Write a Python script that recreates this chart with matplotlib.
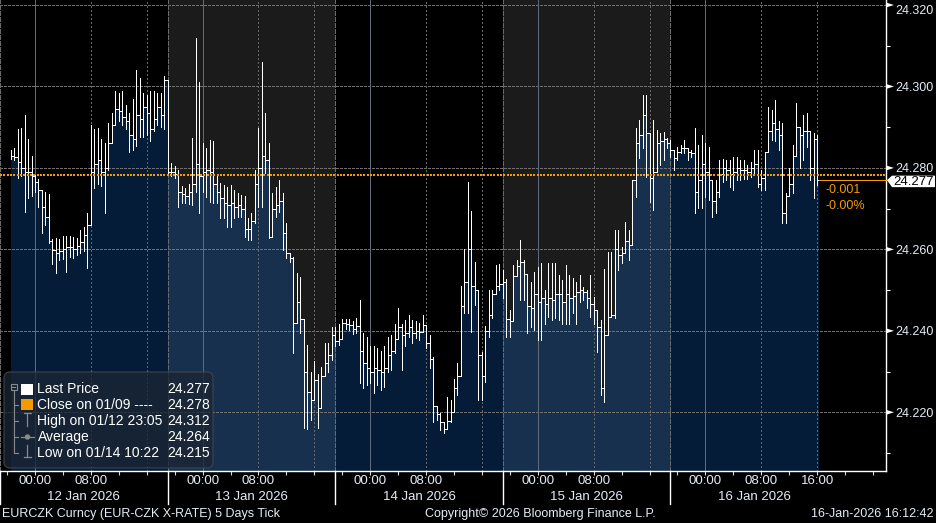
import numpy as np
import pandas as pd
import matplotlib
matplotlib.use("Agg")
import matplotlib.pyplot as plt
import matplotlib.dates as mdates
import matplotlib.transforms as mtransforms
from matplotlib.patches import Rectangle, FancyBboxPatch, Polygon, Circle
from matplotlib.lines import Line2D
from matplotlib.collections import LineCollection

plt.rcParams['font.family'] = ['Liberation Sans', 'DejaVu Sans']

# ---------------- data (30-minute bars, EURCZK) ----------------
first_bar = "2026-01-11 20:30"
bar_step = "30min"
last_tick = "2026-01-16 16:12"

high = [
    24.2845, 24.2850, 24.2895, 24.2898, 24.2930, 24.2870, 24.2830,
    24.2782, 24.2772, 24.2745, 24.2740, 24.2735, 24.2625, 24.2628, 24.2625,
    24.2632, 24.2632, 24.2632, 24.2630, 24.2628, 24.2648, 24.2655, 24.2690,
    24.2905, 24.2895, 24.2898, 24.2870, 24.2862, 24.2910, 24.2935, 24.2990,
    24.2985, 24.2990, 24.2955, 24.2935, 24.2970, 24.3040, 24.3020, 24.2985,
    24.2980, 24.2990, 24.2990, 24.2985, 24.2985, 24.3025, 24.2856, 24.2813,
    24.2805, 24.2795, 24.2755, 24.2750, 24.2760, 24.2873, 24.3120, 24.3010,
    24.2860, 24.2848, 24.2869, 24.2865, 24.2779, 24.2762, 24.2758, 24.2754,
    24.2758, 24.2746, 24.2738, 24.2733, 24.2730, 24.2676, 24.2689, 24.2795,
    24.2897, 24.3060, 24.2934, 24.2860, 24.2738, 24.2754, 24.2770, 24.2738,
    24.2664, 24.2585, 24.2582, 24.2541, 24.2533, 24.2386, 24.2365, 24.2300,
    24.2325, 24.2293, 24.2312, 24.2369, 24.2369, 24.2410, 24.2410, 24.2418,
    24.2428, 24.2430, 24.2428, 24.2424, 24.2432, 24.2476, 24.2394, 24.2386,
    24.2362, 24.2362, 24.2358, 24.2350, 24.2362, 24.2386, 24.2390, 24.2418,
    24.2455, 24.2418, 24.2427, 24.2439, 24.2427, 24.2423, 24.2419, 24.2439,
    24.2398, 24.2390, 24.2335, 24.2210, 24.2198, 24.2177, 24.2238, 24.2230,
    24.2283, 24.2320, 24.2509, 24.2600, 24.2766, 24.2695, 24.2570, 24.2413,
    24.2349, 24.2413, 24.2500, 24.2500, 24.2562, 24.2565, 24.2549, 24.2528,
    24.2451, 24.2562, 24.2574, 24.2623, 24.2574, 24.2525, 24.2521, 24.2545,
    24.2557, 24.2566, 24.2500, 24.2566, 24.2566, 24.2566, 24.2537, 24.2525,
    24.2562, 24.2537, 24.2529, 24.2521, 24.2537, 24.2508, 24.2500, 24.2537,
    24.2484, 24.2447, 24.2427, 24.2553, 24.2594, 24.2594, 24.2648, 24.2648,
    24.2606, 24.2668, 24.2648, 24.2770, 24.2897, 24.2918, 24.2979, 24.2979,
    24.2815, 24.2918, 24.2893, 24.2885, 24.2889, 24.2873, 24.2869, 24.2840,
    24.2852, 24.2856, 24.2869, 24.2848, 24.2844, 24.2897, 24.2856, 24.2881,
    24.2860, 24.2852, 24.2758, 24.2770, 24.2819, 24.2823, 24.2819, 24.2819,
    24.2828, 24.2828, 24.2819, 24.2819, 24.2807, 24.2815, 24.2844, 24.2844,
    24.2795, 24.2840, 24.2950, 24.2942, 24.2967, 24.2914, 24.2910, 24.2738,
    24.2799, 24.2856, 24.2959, 24.2897, 24.2930, 24.2934, 24.2889, 24.2885,
    24.2881,
]

low = [
    24.2822, 24.2820, 24.2775, 24.2780, 24.2692, 24.2725, 24.2730,
    24.2740, 24.2705, 24.2640, 24.2660, 24.2615, 24.2565, 24.2542, 24.2575,
    24.2577, 24.2545, 24.2582, 24.2580, 24.2585, 24.2590, 24.2595, 24.2555,
    24.2746, 24.2750, 24.2760, 24.2755, 24.2690, 24.2795, 24.2870, 24.2905,
    24.2915, 24.2905, 24.2895, 24.2840, 24.2845, 24.2855, 24.2875, 24.2875,
    24.2880, 24.2865, 24.2890, 24.2905, 24.2900, 24.2895, 24.2783, 24.2780,
    24.2775, 24.2705, 24.2715, 24.2715, 24.2712, 24.2710, 24.2740, 24.2690,
    24.2740, 24.2729, 24.2717, 24.2713, 24.2713, 24.2676, 24.2676, 24.2656,
    24.2656, 24.2676, 24.2680, 24.2680, 24.2631, 24.2623, 24.2623, 24.2664,
    24.2705, 24.2705, 24.2787, 24.2627, 24.2656, 24.2680, 24.2693, 24.2599,
    24.2578, 24.2570, 24.2345, 24.2443, 24.2394, 24.2161, 24.2160, 24.2181,
    24.2230, 24.2161, 24.2222, 24.2296, 24.2300, 24.2329, 24.2362, 24.2365,
    24.2404, 24.2405, 24.2403, 24.2392, 24.2395, 24.2271, 24.2259, 24.2267,
    24.2271, 24.2247, 24.2267, 24.2255, 24.2263, 24.2300, 24.2305, 24.2345,
    24.2386, 24.2305, 24.2362, 24.2386, 24.2370, 24.2382, 24.2378, 24.2398,
    24.2357, 24.2310, 24.2177, 24.2180, 24.2157, 24.2150, 24.2160, 24.2177,
    24.2222, 24.2242, 24.2398, 24.2443, 24.2443, 24.2397, 24.2463, 24.2230,
    24.2230, 24.2275, 24.2384, 24.2431, 24.2500, 24.2500, 24.2480, 24.2386,
    24.2386, 24.2443, 24.2537, 24.2476, 24.2476, 24.2394, 24.2410, 24.2402,
    24.2377, 24.2377, 24.2418, 24.2435, 24.2427, 24.2431, 24.2427, 24.2418,
    24.2418, 24.2418, 24.2443, 24.2418, 24.2472, 24.2476, 24.2455, 24.2435,
    24.2418, 24.2349, 24.2243, 24.2226, 24.2410, 24.2435, 24.2431, 24.2549,
    24.2566, 24.2590, 24.2574, 24.2619, 24.2729, 24.2825, 24.2850, 24.2778,
    24.2717, 24.2697, 24.2807, 24.2807, 24.2819, 24.2848, 24.2828, 24.2795,
    24.2819, 24.2836, 24.2836, 24.2819, 24.2828, 24.2689, 24.2701, 24.2701,
    24.2729, 24.2721, 24.2680, 24.2689, 24.2729, 24.2766, 24.2770, 24.2754,
    24.2746, 24.2770, 24.2770, 24.2774, 24.2774, 24.2778, 24.2783, 24.2754,
    24.2746, 24.2746, 24.2840, 24.2869, 24.2865, 24.2844, 24.2664, 24.2664,
    24.2738, 24.2738, 24.2836, 24.2799, 24.2819, 24.2852, 24.2770, 24.2725,
    24.2758,
]

close = [
    24.2830, 24.2828, 24.2815, 24.2800, 24.2790, 24.2790, 24.2780,
    24.2765, 24.2745, 24.2705, 24.2680, 24.2620, 24.2598, 24.2590, 24.2595,
    24.2600, 24.2605, 24.2607, 24.2600, 24.2608, 24.2618, 24.2635, 24.2660,
    24.2790, 24.2810, 24.2820, 24.2790, 24.2800, 24.2860, 24.2905, 24.2945,
    24.2940, 24.2925, 24.2915, 24.2880, 24.2870, 24.2930, 24.2920, 24.2950,
    24.2935, 24.2895, 24.2920, 24.2950, 24.2930, 24.3015, 24.2790, 24.2790,
    24.2785, 24.2740, 24.2735, 24.2730, 24.2740, 24.2760, 24.2810, 24.2780,
    24.2790, 24.2795, 24.2790, 24.2760, 24.2740, 24.2725, 24.2715, 24.2710,
    24.2715, 24.2705, 24.2710, 24.2700, 24.2650, 24.2650, 24.2670, 24.2760,
    24.2800, 24.2830, 24.2820, 24.2630, 24.2700, 24.2710, 24.2720, 24.2640,
    24.2590, 24.2580, 24.2420, 24.2470, 24.2430, 24.2300, 24.2250, 24.2230,
    24.2280, 24.2210, 24.2290, 24.2320, 24.2340, 24.2390, 24.2375, 24.2380,
    24.2420, 24.2418, 24.2415, 24.2405, 24.2412, 24.2350, 24.2320, 24.2310,
    24.2300, 24.2310, 24.2305, 24.2300, 24.2310, 24.2340, 24.2350, 24.2380,
    24.2410, 24.2390, 24.2395, 24.2410, 24.2395, 24.2400, 24.2398, 24.2415,
    24.2370, 24.2330, 24.2215, 24.2195, 24.2175, 24.2160, 24.2178, 24.2200,
    24.2260, 24.2290, 24.2460, 24.2520, 24.2600, 24.2510, 24.2500, 24.2340,
    24.2290, 24.2400, 24.2440, 24.2490, 24.2510, 24.2515, 24.2520, 24.2430,
    24.2425, 24.2535, 24.2560, 24.2570, 24.2540, 24.2460, 24.2455, 24.2490,
    24.2470, 24.2480, 24.2465, 24.2480, 24.2475, 24.2490, 24.2490, 24.2470,
    24.2490, 24.2480, 24.2485, 24.2495, 24.2500, 24.2495, 24.2480, 24.2465,
    24.2450, 24.2410, 24.2260, 24.2390, 24.2435, 24.2440, 24.2600, 24.2585,
    24.2590, 24.2620, 24.2610, 24.2770, 24.2860, 24.2880, 24.2930, 24.2885,
    24.2775, 24.2790, 24.2860, 24.2865, 24.2870, 24.2860, 24.2845, 24.2825,
    24.2840, 24.2850, 24.2848, 24.2840, 24.2836, 24.2740, 24.2770, 24.2810,
    24.2790, 24.2770, 24.2720, 24.2740, 24.2785, 24.2800, 24.2795, 24.2785,
    24.2790, 24.2800, 24.2795, 24.2795, 24.2790, 24.2800, 24.2810, 24.2760,
    24.2775, 24.2840, 24.2890, 24.2910, 24.2895, 24.2880, 24.2690, 24.2730,
    24.2760, 24.2830, 24.2900, 24.2880, 24.2890, 24.2890, 24.2800, 24.2870,
    24.2770,
]

prev_close = 24.2783      # Close on 01/09
last_price = 24.2770
change_abs = "-0.001"
change_pct = "-0.00%"

y_major = [24.220, 24.240, 24.260, 24.280, 24.300, 24.320]
y_minor = [24.210, 24.230, 24.250, 24.270, 24.290, 24.310]

day_starts = ["2026-01-12", "2026-01-13", "2026-01-14", "2026-01-15", "2026-01-16"]
day_labels = ["12 Jan 2026", "13 Jan 2026", "14 Jan 2026", "15 Jan 2026", "16 Jan 2026"]
time_labels = ["00:00", "08:00"]
last_day_extra = "16:00"

legend_labels = ["Last Price", "Close on 01/09 ----", "High on 01/12 23:05", "Average", "Low on 01/14 10:22"]
legend_values = ["24.277", "24.278", "24.312", "24.264", "24.215"]

footer_left = "EURCZK Curncy (EUR-CZK X-RATE) 5 Days Tick"
footer_mid = "Copyright\u00a9 2026 Bloomberg Finance L.P."
footer_right = "16-Jan-2026 16:12:42"

# ---------------- styling ----------------
W, H = 937, 523
AX_R, AX_B = 886, 471
ORANGE = '#f59a00'
TXT = '#e4ecf6'

fig = plt.figure(figsize=(W / 100, H / 100), dpi=100, facecolor='black')
ax = fig.add_axes([0, (H - AX_B) / H, AX_R / W, AX_B / H])
ax.set_facecolor('black')

# pixel transform (origin top-left of figure)
PX = mtransforms.Affine2D().scale(1 / W, -1 / H).translate(0, 1) + fig.transFigure

ymin, ymax = 24.20559, 24.32123
day0 = mdates.date2num(pd.Timestamp(day_starts[0]))
px_day = 167.6
xmin = day0 - 35 / px_day
xmax = day0 + (AX_R - 35) / px_day
ax.set_xlim(xmin, xmax)
ax.set_ylim(ymin, ymax)

def ypx(v):
    return (ymax - v) / (ymax - ymin) * AX_B

# sessions start at 19:00 the previous evening
sess = [mdates.date2num(pd.Timestamp(d)) - 5 / 24 for d in day_starts]
shaded = [sess[1], sess[3]]
for s in shaded:
    ax.axvspan(s, s + 1, color='#1b1b1b', lw=0, zorder=0)

# data area
t = mdates.date2num(pd.date_range(first_bar, periods=len(close), freq=bar_step))
t_end = mdates.date2num(pd.Timestamp(last_tick))
xs = np.append(t, t_end)
cs = np.append(close, close[-1])
ax.fill_between(xs, cs, ymin, step='post', color='#041c38', lw=0, zorder=1)
for s in shaded:
    f = ax.fill_between(xs, cs, ymin, step='post', color='#17304e', lw=0, zorder=1.1)
    f.set_clip_path(Rectangle((s, ymin), 1.0, ymax - ymin, transform=ax.transData))

# grid
for v in y_major:
    ax.axhline(v, color='#707070', lw=0.7, ls=(0, (3, 2)), zorder=2, antialiased=False)
for d in day_starts:
    dn = mdates.date2num(pd.Timestamp(d))
    ax.axvline(dn, color='#5f6b7a', lw=0.7, zorder=2, antialiased=False)
    for hh in (8, 16):
        ax.axvline(dn + hh / 24, color='#666666', lw=0.7, ls=(0, (2, 2.5)), zorder=2,
                   antialiased=False)
for s in sess:
    ax.axvline(s, color='#6a6a6a', lw=0.7, ls=(0, (5, 2)), zorder=2, antialiased=False)

# bars
ax.vlines(t, low, high, color='white', lw=0.7, zorder=3, antialiased=False)
ax.step(xs, cs, where='post', color='white', lw=0.7, zorder=3, antialiased=False)

# reference lines: previous close as square dots (2 px on / ~1.3 px off)
yc = ypx(prev_close)
dot_x = np.arange(0, AX_R, 10 / 3)
segs = [[(x0, yc), (x0 + 2, yc)] for x0 in dot_x]
fig.add_artist(LineCollection(segs, transform=PX, colors=ORANGE, linewidths=1.44,
                              antialiased=False, capstyle='butt', zorder=5))
ax.plot([t_end, xmax], [last_price, last_price], color=ORANGE, lw=0.7, zorder=5,
        solid_capstyle='butt', clip_on=False, antialiased=False)

# spines / ticks
for side in ('left', 'top'):
    ax.spines[side].set_visible(False)
for side in ('right', 'bottom'):
    ax.spines[side].set_color('white')
    ax.spines[side].set_linewidth(1.0)
ax.yaxis.tick_right()
ax.set_yticks(y_major)
ax.set_yticks(y_minor, minor=True)
ax.tick_params(axis='y', which='major', length=0, labelright=False, labelleft=False)
ax.tick_params(axis='y', which='minor', length=3, width=0.8, color='white', direction='out')
ax.xaxis.set_major_locator(mdates.HourLocator(byhour=[0, 4, 8, 12, 16, 20]))
ax.tick_params(axis='x', which='major', length=3, width=0.8, color='#d8d8d8',
               direction='out', labelbottom=False)

# right axis labels and markers
for v in y_major:
    yp = ypx(v)
    fig.text(895, max(yp + 1.2, 10.5), "%.3f" % v, transform=PX, color=TXT,
             fontsize=9, va='center', ha='left')
    fig.patches.append(Polygon([[886, yp - 2.5], [886, yp + 2.5], [894, yp]],
                               closed=True, transform=PX, color='white', lw=0, zorder=4))

# last price tag
yl = ypx(last_price)
fig.patches.append(Polygon([[887, yl], [892, yl - 4.5], [935, yl - 4.5], [935, yl + 7],
                            [892, yl + 7]], closed=True, transform=PX,
                           facecolor='white', edgecolor='none', zorder=10))
fig.text(913.5, yl + 1.5, "%.3f" % last_price, transform=PX, color='black', fontsize=9.5,
         va='center', ha='center', zorder=11)
fig.text(826, yl + 10, change_abs, transform=PX, color=ORANGE, fontsize=9, va='center', ha='left')
fig.text(826, yl + 25.5, change_pct, transform=PX, color=ORANGE, fontsize=9, va='center', ha='left')

# bottom labels
XB = mtransforms.blended_transform_factory(ax.transData, PX)
for i, d in enumerate(day_starts):
    dn = mdates.date2num(pd.Timestamp(d))
    labs = list(time_labels) + ([last_day_extra] if i == len(day_starts) - 1 else [])
    for lab in labs:
        hh = int(lab[:2])
        ax.text(dn + hh / 24, 481.5, lab, transform=XB, color=TXT, fontsize=9.5,
                ha='center', va='center', clip_on=False)
    ax.text(sess[i] + 0.5, 497.5, day_labels[i], transform=XB, color=TXT, fontsize=9.5,
            ha='center', va='center', clip_on=False)
for s in sess:
    ax.add_line(Line2D([s, s], [471, 504], transform=XB, color='white', lw=1.0, clip_on=False))

# footer
fig.text(2, 514, footer_left, transform=PX, color=TXT, fontsize=9, va='center', ha='left')
fig.text(540, 514, footer_mid, transform=PX, color=TXT, fontsize=9, va='center', ha='center')
fig.text(934, 514, footer_right, transform=PX, color=TXT, fontsize=9, va='center', ha='right')

# legend box
fig.patches.append(FancyBboxPatch((4, 372), 209, 96, boxstyle='round,pad=0,rounding_size=6',
                                  transform=PX, facecolor='#1a2533', alpha=0.78,
                                  edgecolor='#3e4650', lw=1, zorder=6))
rows = [389, 405, 421, 437, 453]
GR = '#8a8a8a'
# tree
fig.patches.append(Rectangle((11, 384), 6, 6, transform=PX, fill=False, edgecolor=GR, lw=0.8, zorder=7))
fig.lines.append(Line2D([12.5, 15.5], [387, 387], transform=PX, color=GR, lw=0.8, zorder=7))
fig.lines.append(Line2D([14, 14], [391, 453], transform=PX, color=GR, lw=0.8, zorder=7))
for r in rows[1:]:
    fig.lines.append(Line2D([14, 18.5], [r, r], transform=PX, color=GR, lw=0.8, zorder=7))
# icons
fig.patches.append(Rectangle((21, 383.5), 12, 11, transform=PX, facecolor='white', lw=0, zorder=7))
fig.patches.append(Rectangle((21, 399), 12, 11, transform=PX, facecolor=ORANGE, lw=0, zorder=7))
fig.lines.append(Line2D([24, 31], [413, 413], transform=PX, color=GR, lw=0.9, zorder=7))
fig.lines.append(Line2D([27.5, 27.5], [413, 425.5], transform=PX, color=GR, lw=0.9, zorder=7))
fig.lines.append(Line2D([21, 34], [437, 437], transform=PX, color=GR, lw=0.9, zorder=7))
fig.patches.append(Circle((27.5, 437), 2.0, transform=PX, color=GR, zorder=7))
fig.lines.append(Line2D([27.5, 27.5], [445, 457], transform=PX, color=GR, lw=0.9, zorder=7))
fig.lines.append(Line2D([24, 31], [457, 457], transform=PX, color=GR, lw=0.9, zorder=7))
for r, lab, val in zip(rows, legend_labels, legend_values):
    fig.text(37.5, r, lab, transform=PX, color='white', fontsize=10, va='center', ha='left', zorder=8)
    fig.text(167, r, val, transform=PX, color='white', fontsize=10, va='center', ha='left', zorder=8)

fig.savefig('out.png', dpi=100, facecolor='black')
